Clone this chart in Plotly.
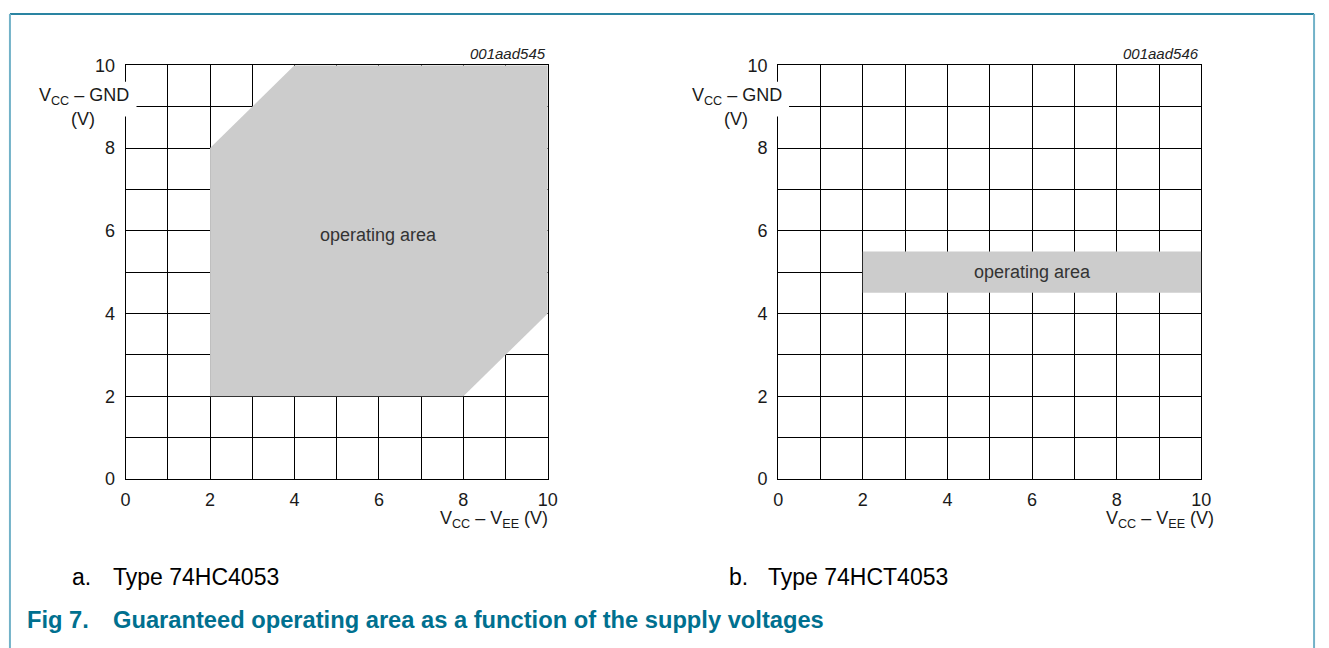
import plotly.graph_objects as go

W, H = 1329, 648

# ---- data ----
hc_x = [2, 8, 10, 10, 4, 2]          # 74HC4053 operating area polygon (VCC-VEE)
hc_y = [2, 2, 4, 10, 10, 8]          # (VCC-GND)
hct_x = [2, 10, 10, 2]               # 74HCT4053 operating area (VCC-VEE)
hct_y = [4.5, 4.5, 5.5, 5.5]         # (VCC-GND)
tick_vals = [0, 2, 4, 6, 8, 10]
tick_text = ["0", "2", "4", "6", "8", "10"]
chart_ids = ["001aad545", "001aad546"]
captions = ["Type 74HC4053", "Type 74HCT4053"]
caption_letters = ["a.", "b."]

FONT = "Liberation Sans, Arial, sans-serif"
GRAY = "#cccccc"
TEAL = "#00708f"


def px(x):
    return x / W


def py(y):
    return 1 - y / H


fig = go.Figure()
fig.add_trace(go.Scatter(x=hc_x, y=hc_y, fill="toself", fillcolor=GRAY, mode="lines",
                         line=dict(width=0, color=GRAY), hoverinfo="skip", showlegend=False,
                         xaxis="x", yaxis="y"))
fig.add_trace(go.Scatter(x=hct_x, y=hct_y, fill="toself", fillcolor=GRAY, mode="lines",
                         line=dict(width=0, color=GRAY), hoverinfo="skip", showlegend=False,
                         xaxis="x2", yaxis="y2"))

plots = [(122, 549), (782, 1210)]
top, bottom = 57, 484

axis_common = dict(
    range=[0, 10], tickmode="array", tickvals=tick_vals, ticktext=tick_text,
    showgrid=True, gridcolor="black", gridwidth=1,
    minor=dict(dtick=1, tick0=0, showgrid=True, gridcolor="black", gridwidth=1),
    showline=True, mirror=True, linecolor="black", linewidth=1,
    zeroline=False, ticks="outside", ticklen=4, tickcolor="rgba(0,0,0,0)",
    tickfont=dict(family=FONT, size=18, color="#1a1a1a"),
    layer="below traces", fixedrange=True,
)

fig.update_layout(
    width=W, height=H, margin=dict(l=0, r=0, t=0, b=0),
    paper_bgcolor="white", plot_bgcolor="white", showlegend=False,
    xaxis=dict(domain=[px(plots[0][0]), px(plots[0][1])], anchor="y", **axis_common),
    yaxis=dict(domain=[py(bottom), py(top)], anchor="x", **dict(axis_common, ticklen=6)),
    xaxis2=dict(domain=[px(plots[1][0]), px(plots[1][1])], anchor="y2", **axis_common),
    yaxis2=dict(domain=[py(bottom), py(top)], anchor="x2", **dict(axis_common, ticklen=6)),
)

shapes = []
# frame
shapes.append(dict(type="line", xref="paper", yref="paper", x0=px(5), x1=px(1324), y0=py(4), y1=py(4),
                   line=dict(color="#2a84a2", width=2)))
shapes.append(dict(type="line", xref="paper", yref="paper", x0=px(5), x1=px(5), y0=py(4), y1=-0.05,
                   line=dict(color="#72b2c8", width=2)))
shapes.append(dict(type="line", xref="paper", yref="paper", x0=px(1324), x1=px(1324), y0=py(4), y1=-0.05,
                   line=dict(color="#72b2c8", width=2)))
# white boxes behind the y-axis labels
for (x0, x1) in plots:
    shapes.append(dict(type="rect", xref="paper", yref="paper", x0=px(x0 - 94), x1=px(x0 + 11),
                       y0=py(110), y1=py(74), fillcolor="white", line=dict(width=0), layer="above"))
fig.update_layout(shapes=shapes)

ann = []
for i, (x0, x1) in enumerate(plots):
    xr = "x" if i == 0 else "x2"
    yr = "y" if i == 0 else "y2"
    ann.append(dict(text="<i>%s</i>" % chart_ids[i], xref="paper", yref="paper", x=px(x1), y=py(45),
                    xanchor="right", yanchor="middle", showarrow=False,
                    font=dict(family=FONT, size=15, color="#222")))
    ann.append(dict(text="V<sub>CC</sub> – GND", xref="paper", yref="paper", x=px(x0 - 42), y=py(89),
                    xanchor="center", yanchor="middle", showarrow=False,
                    font=dict(family=FONT, size=18, color="#1a1a1a")))
    ann.append(dict(text="(V)", xref="paper", yref="paper", x=px(x0 - 43), y=py(112),
                    xanchor="center", yanchor="middle", showarrow=False,
                    font=dict(family=FONT, size=18, color="#1a1a1a")))
    ann.append(dict(text="V<sub>CC</sub> – V<sub>EE</sub> (V)", xref="paper", yref="paper",
                    x=px(x1 + 2 if i == 0 else x1 + 15), y=py(526),
                    xanchor="right", yanchor="middle", showarrow=False,
                    font=dict(family=FONT, size=18, color="#1a1a1a")))
    ann.append(dict(text="operating area", xref=xr, yref=yr, x=6, y=5.9 if i == 0 else 5.0,
                    xanchor="center", yanchor="middle", showarrow=False,
                    font=dict(family=FONT, size=18, color="#333")))

cap_x = [(66, 107), (730, 770)]
for i, (lx, tx) in enumerate(cap_x):
    ann.append(dict(text=caption_letters[i], xref="paper", yref="paper", x=px(lx), y=py(585),
                    xanchor="left", yanchor="middle", showarrow=False,
                    font=dict(family=FONT, size=23, color="black")))
    ann.append(dict(text=captions[i], xref="paper", yref="paper", x=px(tx), y=py(585),
                    xanchor="left", yanchor="middle", showarrow=False,
                    font=dict(family=FONT, size=23, color="black")))

ann.append(dict(text="<b>Fig 7.</b>", xref="paper", yref="paper", x=px(20), y=py(629),
                xanchor="left", yanchor="middle", showarrow=False,
                font=dict(family=FONT, size=23.7, color=TEAL)))
ann.append(dict(text="<b>Guaranteed operating area as a function of the supply voltages</b>",
                xref="paper", yref="paper", x=px(107), y=py(629),
                xanchor="left", yanchor="middle", showarrow=False,
                font=dict(family=FONT, size=23.7, color=TEAL)))
fig.update_layout(annotations=ann)

fig.write_html("out.html", config={"displayModeBar": False},
               post_script="document.body.style.margin='0';document.body.style.overflow='hidden';")
